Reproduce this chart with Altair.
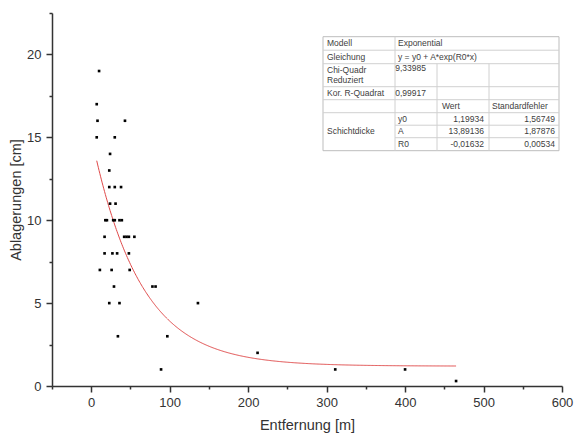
import altair as alt
import pandas as pd

# ---- data ----
dist = [10, 7, 8, 43, 7, 30, 24, 23, 23, 30, 38, 24, 31,
        18, 20, 28, 30, 36, 39, 17, 42, 45, 48, 55,
        17, 27, 33, 48, 11, 26, 49, 29, 78, 82,
        23, 36, 136, 34, 97, 212, 89, 311, 400, 465]
depth = [19, 17, 16, 16, 15, 15, 14, 13, 12, 12, 12, 11, 11,
         10, 10, 10, 10, 10, 10, 9, 9, 9, 9, 9,
         8, 8, 8, 8, 7, 7, 7, 6, 6, 6,
         5, 5, 5, 3, 3, 2, 1, 1, 1, 0.3]

# fit parameters shown in the table
fit_y0 = 1.19934
fit_A = 13.89136
fit_R0 = -0.01632

x_major = [0, 100, 200, 300, 400, 500, 600]
x_minor = [-50, 50, 150, 250, 350, 450, 550]
y_major = [0, 5, 10, 15, 20]
y_minor = [2.5, 7.5, 12.5, 17.5, 22.5]

# table content: text, offset from table's left, offset from table's top
tbl_left = [
    ("Modell", 4, 6.5), ("Gleichung", 4, 20), ("Chi-Quadr", 4, 33.5), ("Reduziert", 4, 43.5),
    ("Kor. R-Quadrat", 4, 56.5), ("Schichtdicke", 4, 94.5),
    ("Exponential", 75, 6.5), ("y = y0 + A*exp(R0*x)", 75, 20),
    ("y0", 75, 82), ("A", 75, 94.5), ("R0", 75, 107),
    ("Wert", 119, 69.5), ("Standardfehler", 169, 69.5),
]
tbl_right = [
    ("9,33985", 103, 31), ("0,99917", 103, 56.5),
    ("1,19934", 161, 82), ("13,89136", 161, 94.5), ("-0,01632", 161, 107),
    ("1,56749", 232, 82), ("1,87876", 232, 94.5), ("0,00534", 232, 107),
]

FONT = "Liberation Sans"
W, H = 510, 373
XD = [-50, 600]
YD = [0, 22.5]

pts = pd.DataFrame({"x": dist, "y": depth})

axis_style = dict(domainColor="#333333", tickColor="#333333", domainWidth=1.5, tickWidth=1.5,
                  labelFont=FONT, labelFontSize=13, labelColor="#333333", labelFlush=False,
                  titleFont=FONT, titleFontSize=14.5, titleColor="#333333",
                  titleFontWeight="normal", grid=False)

points = alt.Chart(pts).mark_square(size=7, color="black", opacity=1).encode(
    x=alt.X("x:Q", scale=alt.Scale(domain=XD, nice=False, zero=False),
            axis=alt.Axis(values=x_major, tickSize=6, labelPadding=4, titlePadding=9,
                          title="Entfernung [m]", orient="bottom", **axis_style)),
    y=alt.Y("y:Q", scale=alt.Scale(domain=YD, nice=False),
            axis=alt.Axis(values=y_major, tickSize=6, labelPadding=5, titlePadding=3,
                          title="Ablagerungen [cm]", orient="left", **axis_style)),
)

curve = alt.Chart(alt.sequence(min(dist), max(dist) + 0.5, 1, as_="x")).transform_calculate(
    y=f"{fit_y0} + {fit_A} * exp({fit_R0} * datum.x)"
).mark_line(color="#e04a4a", strokeWidth=1).encode(
    x=alt.X("x:Q", scale=alt.Scale(domain=XD, nice=False, zero=False)),
    y=alt.Y("y:Q", scale=alt.Scale(domain=YD, nice=False)),
)

main = alt.layer(curve, points)

minor = alt.Chart(pts).mark_point(opacity=0).encode(
    x=alt.X("x:Q", scale=alt.Scale(domain=XD, nice=False, zero=False),
            axis=alt.Axis(values=x_minor, tickSize=3, labels=False, domain=False, title=None,
                          orient="bottom", tickColor="#333333", tickWidth=1.5, grid=False)),
    y=alt.Y("y:Q", scale=alt.Scale(domain=YD, nice=False),
            axis=alt.Axis(values=y_minor, tickSize=3, labels=False, domain=False, title=None,
                          orient="left", tickColor="#333333", tickWidth=1.5, grid=False)),
)

# ---- table box (pixel positions within plot area) ----
TX0, TX1 = 271, 507
TY0, TY1 = 23.7, 137.7
c1, c2, c3 = 343, 385, 437
r = [37.2, 50.7, 73.7, 86.7, 99.7, 112.2, 124.7]

box = alt.Chart(pts.head(1)).mark_rect(fill="white", stroke="#bdbdbd", strokeWidth=1).encode(
    x=alt.value(TX0), x2=alt.value(TX1), y=alt.value(TY0), y2=alt.value(TY1))

lines = pd.DataFrame([
    dict(x=TX0, x2=TX1, y=r[0], y2=r[0]),
    dict(x=TX0, x2=TX1, y=r[1], y2=r[1]),
    dict(x=TX0, x2=TX1, y=r[2], y2=r[2]),
    dict(x=TX0, x2=TX1, y=r[3], y2=r[3]),
    dict(x=TX0, x2=TX1, y=r[4], y2=r[4]),
    dict(x=c1, x2=TX1, y=r[5], y2=r[5]),
    dict(x=c1, x2=TX1, y=r[6], y2=r[6]),
    dict(x=c1, x2=c1, y=TY0, y2=TY1),
    dict(x=c2, x2=c2, y=r[1], y2=TY1),
    dict(x=c3, x2=c3, y=r[1], y2=TY1),
])
rules = alt.Chart(lines).mark_rule(color="#d0d0d0", strokeWidth=1).encode(
    x=alt.X("x:Q", scale=None, axis=None), x2="x2:Q",
    y=alt.Y("y:Q", scale=None, axis=None), y2="y2:Q")

tl = pd.DataFrame(tbl_left, columns=["t", "dx", "dy"])
tl["x"] = tl["dx"] + TX0
tl["y"] = tl["dy"] + TY0
tr = pd.DataFrame(tbl_right, columns=["t", "dx", "dy"])
tr["x"] = tr["dx"] + TX0
tr["y"] = tr["dy"] + TY0

txt_l = alt.Chart(tl).mark_text(align="left", baseline="middle", font=FONT, fontSize=8.5,
                                color="#404040").encode(
    x=alt.X("x:Q", scale=None, axis=None), y=alt.Y("y:Q", scale=None, axis=None), text="t:N")
txt_r = alt.Chart(tr).mark_text(align="right", baseline="middle", font=FONT, fontSize=8.5,
                                color="#404040").encode(
    x=alt.X("x:Q", scale=None, axis=None), y=alt.Y("y:Q", scale=None, axis=None), text="t:N")

table = alt.layer(box, rules, txt_l, txt_r)

chart = alt.layer(main, minor, table).resolve_scale(
    x="independent", y="independent"
).properties(
    width=W, height=H,
    padding={"left": 44, "top": 5, "right": 12, "bottom": 50},
    autosize=alt.AutoSizeParams(type="none"),
).configure_view(strokeWidth=0)

chart.save("out.html", embed_options={"renderer": "svg", "actions": False})
